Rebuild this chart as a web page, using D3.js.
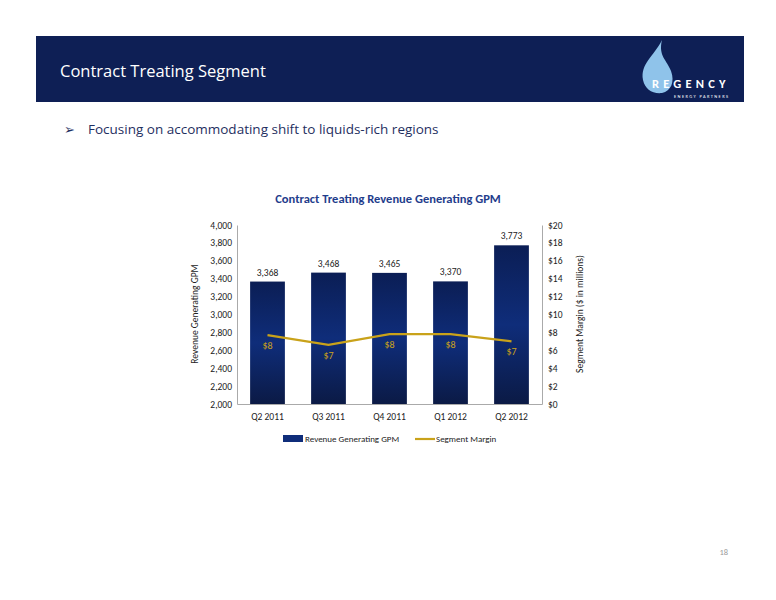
<!DOCTYPE html><html><head><meta charset="utf-8"><script src="https://cdn.jsdelivr.net/npm/d3@7"></script>
<style>body{margin:0;background:#fff}svg{font-family:Calibri,Carlito,"Open Sans",sans-serif}</style></head><body>
<svg id="c" width="776" height="600"></svg>
<script>
const categories=["Q2 2011","Q3 2011","Q4 2011","Q1 2012","Q2 2012"];
const gpm=[3368,3468,3465,3370,3773];
const margin=[7.7,6.6,7.8,7.8,7.0];
const marginLabels=["$8","$7","$8","$8","$7"];
const leftTicks=d3.range(2000,4001,200);
const rightTicks=d3.range(0,21,2);
const svg=d3.select("#c");
const defs=svg.append("defs");
const g1=defs.append("linearGradient").attr("id","bg").attr("x1",0).attr("x2",0).attr("y1",0).attr("y2",1);
g1.append("stop").attr("offset","0%").attr("stop-color","#0b1e55");
g1.append("stop").attr("offset","50%").attr("stop-color","#0f2d7a");
g1.append("stop").attr("offset","100%").attr("stop-color","#0b1a45");
svg.append("rect").attr("x",36).attr("y",36).attr("width",708).attr("height",66).attr("fill","#0e1f55");
svg.append("text").attr("x",60).attr("y",77).attr("fill","#fff").attr("font-size",19).attr("font-family","'Open Sans',sans-serif").attr("font-size",16.5).text("Contract Treating Segment");
svg.append("path").attr("d","M662,40 C654,56 640,64 643,80 C645,89 652,94 662,93 C671,91 675,82 671,71 C667,60 658,56 662,40Z").attr("fill","#8fc3ea");
svg.append("text").attr("x",652).attr("y",88).attr("fill","#fff").attr("font-size",12.5).attr("font-weight","bold").attr("letter-spacing",4.2).text("REGENCY");
svg.append("text").attr("x",674).attr("y",98).attr("fill","#fff").attr("font-size",4.5).attr("letter-spacing",1.4).text("ENERGY PARTNERS");
svg.append("text").attr("x",64).attr("y",134).attr("fill","#1f2f5f").attr("font-size",13).text("➢");
svg.append("text").attr("x",88).attr("y",134).attr("fill","#1f2f5f").attr("font-size",13.5).attr("font-family","'Open Sans',sans-serif").text("Focusing on accommodating shift to liquids-rich regions");
const x=d3.scaleBand().domain(categories).range([237,542]).paddingInner(0.43).paddingOuter(0.215);
const y=d3.scaleLinear().domain([2000,4000]).range([404,225]);
const y2=d3.scaleLinear().domain([0,20]).range([404,225]);
svg.append("text").attr("x",388).attr("y",203).attr("text-anchor","middle").attr("fill","#1f3d8c").attr("font-weight","bold").attr("font-size",12.5).text("Contract Treating Revenue Generating GPM");
svg.selectAll(".bar").data(gpm).join("rect").attr("x",(d,i)=>x(categories[i])).attr("width",x.bandwidth()).attr("y",d=>y(d)).attr("height",d=>404-y(d)).attr("fill","url(#bg)");
svg.selectAll(".bl").data(gpm).join("text").attr("x",(d,i)=>x(categories[i])+x.bandwidth()/2).attr("y",d=>y(d)-6).attr("text-anchor","middle").attr("font-size",9.5).attr("fill","#222").text(d=>d3.format(",")(d));
const la=svg.append("g").attr("transform","translate(237,0)").call(d3.axisLeft(y).tickValues(leftTicks).tickFormat(d3.format(",")).tickSize(0).tickPadding(5));
const ra=svg.append("g").attr("transform","translate(542,0)").call(d3.axisRight(y2).tickValues(rightTicks).tickFormat(d=>"$"+d).tickSize(0).tickPadding(6));
const ba=svg.append("g").attr("transform","translate(0,404)").call(d3.axisBottom(x).tickSize(0).tickPadding(9));
[la,ra,ba].forEach(a=>{a.select(".domain").attr("stroke","#aaa");a.selectAll("text").attr("font-size",9.5).attr("fill","#222").attr("font-family","Calibri,Carlito,'Open Sans',sans-serif");});
svg.append("path").datum(margin).attr("fill","none").attr("stroke","#c9a21a").attr("stroke-width",2.2)
 .attr("d",d3.line().x((d,i)=>x(categories[i])+x.bandwidth()/2).y(d=>y2(d)));
svg.selectAll(".ml").data(margin).join("text").attr("x",(d,i)=>x(categories[i])+x.bandwidth()/2).attr("y",d=>y2(d)+14).attr("text-anchor","middle").attr("font-size",10).attr("fill","#c9a21a").text((d,i)=>marginLabels[i]);
svg.append("text").attr("transform","translate(198,314) rotate(-90)").attr("text-anchor","middle").attr("font-size",9.5).attr("fill","#222").text("Revenue Generating GPM");
svg.append("text").attr("transform","translate(583,314) rotate(-90)").attr("text-anchor","middle").attr("font-size",9.5).attr("fill","#222").text("Segment Margin ($ in millions)");
svg.append("rect").attr("x",283).attr("y",435).attr("width",20).attr("height",7).attr("fill","#0f2d7a");
svg.append("text").attr("x",305).attr("y",442).attr("font-size",9).attr("fill","#222").text("Revenue Generating GPM");
svg.append("line").attr("x1",415).attr("x2",435).attr("y1",439).attr("y2",439).attr("stroke","#c9a21a").attr("stroke-width",2.2);
svg.append("text").attr("x",436).attr("y",442).attr("font-size",9).attr("fill","#222").text("Segment Margin");
svg.append("text").attr("x",728).attr("y",555).attr("text-anchor","end").attr("font-size",8.5).attr("fill","#999").text("18");
</script></body></html>
